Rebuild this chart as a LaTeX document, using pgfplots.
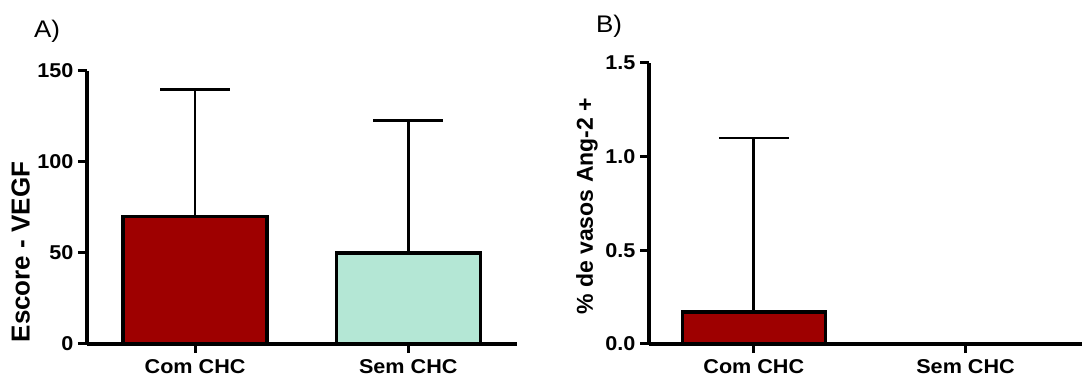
\documentclass[border=0pt]{standalone}
\usepackage{fontspec}
\setmainfont{Liberation Sans}
\newfontfamily\stretchfont[FakeStretch=1.08]{Liberation Sans}
\usepackage{pgfplots}
\pgfplotsset{compat=1.18}
\definecolor{barred}{RGB}{158,0,0}
\definecolor{mint}{RGB}{180,231,213}
\begin{document}
\begin{tikzpicture}[x=1pt,y=1pt]
\useasboundingbox (0,0) rectangle (1082,380);
\pgfplotsset{
  myax/.style={
    scale only axis,
    axis x line*=bottom, axis y line*=left,
    axis line style={line width=3.2pt,-},
    tick style={line width=3pt,black},
    major tick length=9pt,
    tick align=outside,
    xtick={0,1}, xticklabels={Com CHC, Sem CHC},
    ymin=0,
    clip=false,
    /pgf/number format/assume math mode=true,
    tick label style={font=\stretchfont\fontsize{20}{24}\selectfont\bfseries},
    yticklabel style={xshift=-1pt},
    xticklabel style={yshift=-3pt},
    label style={font=\fontsize{22}{26}\selectfont\bfseries},
  },
  mybar/.style={ybar, bar shift=0pt, draw=black, line width=3.5pt,
    error bars/y dir=plus, error bars/y explicit,
    error bars/error bar style={line width=2.8pt,black},
    error bars/error mark=|,
    error bars/error mark options={line width=2.8pt,black,mark size=35pt}},
}
\begin{axis}[myax,
  at={(87pt,36pt)}, anchor=south west,
  width=430pt, height=273pt,
  xmin=-0.507, xmax=1.51, ymax=150,
  ytick={0,50,100,150},
  ylabel={Escore - VEGF},
  ylabel style={at={(axis description cs:-0.154,0.337)}, anchor=center, rotate=0, font=\fontsize{26}{30}\selectfont\bfseries},
]
\addplot[mybar, fill=barred, bar width=144pt] coordinates {(0,70) +- (0,70)};
\addplot[mybar, fill=mint, bar width=144pt] coordinates {(1,50) +- (0,73)};
\end{axis}
\begin{axis}[myax,
  at={(649pt,36pt)}, anchor=south west,
  width=433pt, height=281pt,
  xmin=-0.495, xmax=1.55, ymax=1.5,
  ytick={0,0.5,1.0,1.5},
  yticklabel style={/pgf/number format/.cd, fixed, fixed zerofill, precision=1},
  ylabel={\% de vasos Ang-2 +},
  ylabel style={at={(axis description cs:-0.143,0.49)}, anchor=center, rotate=0, font=\fontsize{23}{27}\selectfont\bfseries},
]
\addplot[mybar, fill=barred, bar width=143pt] coordinates {(0,0.17) +- (0,0.93)};
\end{axis}
\node[font=\stretchfont\fontsize{24}{28}\selectfont] at (47,349) {A)};
\node[font=\stretchfont\fontsize{24}{28}\selectfont] at (609,354) {B)};
\end{tikzpicture}
\end{document}
